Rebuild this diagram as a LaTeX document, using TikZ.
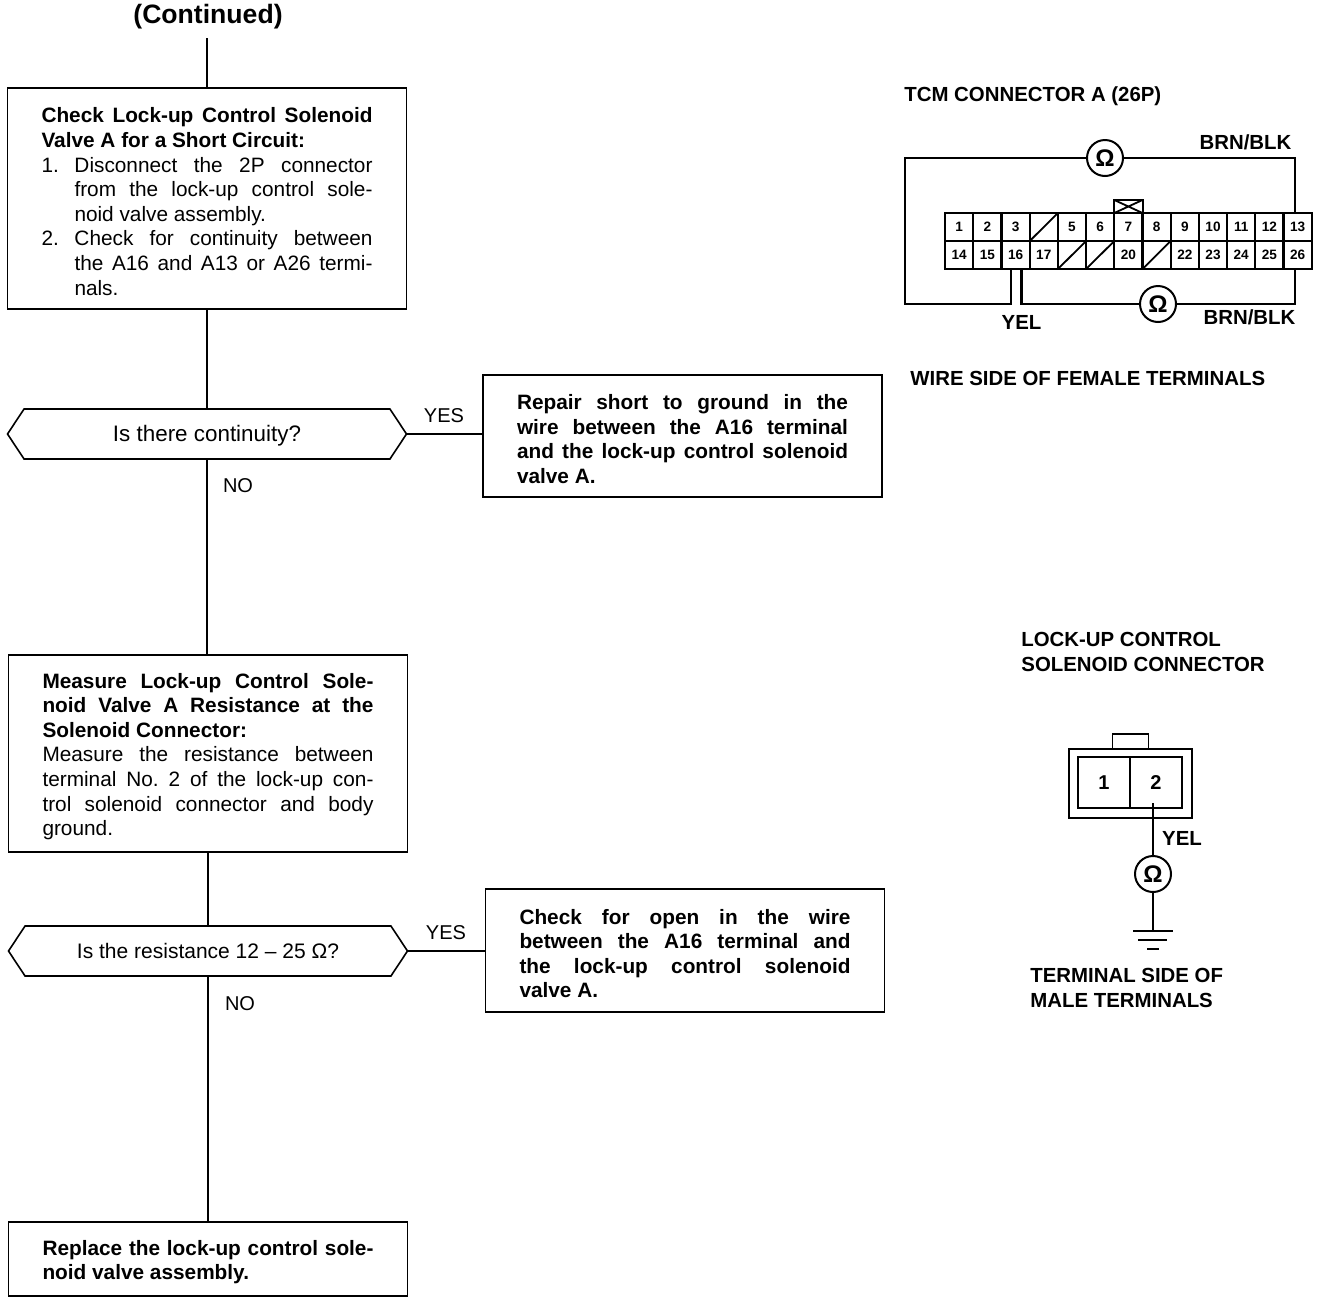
\documentclass[tikz,border=0pt]{standalone}
\usepackage{fontspec}
\setmainfont{Liberation Sans}
\usetikzlibrary{arrows.meta, positioning, shapes.symbols, calc}
\frenchspacing
% one stretched line of a box
\newcommand{\fullline}[1]{\makebox[165.5pt][s]{#1}}
\newcommand{\itemline}[2]{\makebox[16.5pt][l]{#1}\makebox[149pt][s]{#2}}
\begin{document}
\begin{tikzpicture}[
    x=0.5pt, y=-0.5pt,
    stepbox/.style={draw, line width=0.9pt, minimum width=199.5pt, outer sep=0pt, inner sep=0pt, text width=165.5pt, align=flush left, font=\fontsize{10.4}{12.3}\selectfont, execute at begin node=\rule{0pt}{10.5pt}},
    question/.style={draw, line width=0.8pt, signal, signal to=west and east, signal pointer angle=113, minimum width=199.5pt, minimum height=25pt, outer sep=0pt, inner sep=0pt, text height=10pt, text depth=2.2pt},
    answer/.style={font=\fontsize{10}{12}\selectfont},
    flow/.style={line width=0.8pt},
    label/.style={font=\fontsize{10.2}{12.3}\selectfont\bfseries, align=left, inner sep=0pt},
    pincell/.style={draw, line width=1.1pt, minimum width=14.1pt, minimum height=14pt, inner sep=0pt, outer sep=0pt, font=\fontsize{6.8}{7}\selectfont\bfseries},
    meter/.style={draw, circle, line width=1pt, minimum size=18pt, inner sep=0pt, outer sep=0pt, font=\fontsize{12}{12}\selectfont\bfseries},
    wire/.style={line width=1.2pt}
]
\useasboundingbox (0,0) rectangle (1328,1302);

% Flow column
\node[font=\fontsize{13.3}{15}\selectfont\bfseries] (continued) at (208,17) {(Continued)};
\node[stepbox, minimum height=110.5pt] (shortcheck) at (207,198.5) {\bfseries
  \fullline{Check Lock-up Control Solenoid}\\
  Valve A for a Short Circuit:\\
  \mdseries\itemline{1.}{Disconnect the 2P connector}\\
  \itemline{}{from the lock-up control sole-}\\
  \hspace*{16.5pt}noid valve assembly.\\
  \itemline{2.}{Check for continuity between}\\
  \itemline{}{the A16 and A13 or A26 termi-}\\
  \hspace*{16.5pt}nals.};
\node[question, font=\fontsize{11.2}{12}\selectfont] (continuity) at (207,434) {Is there continuity?};
\node[stepbox, minimum height=98.5pt] (resistcheck) at (208,753.5) {\bfseries
  \fullline{Measure Lock-up Control Sole-}\\
  \fullline{noid Valve A Resistance at the}\\
  Solenoid Connector:\\
  \mdseries\fullline{Measure the resistance between}\\
  \fullline{terminal No. 2 of the lock-up con-}\\
  \fullline{trol solenoid connector and body}\\
  ground.};
\node[question, font=\fontsize{10.5}{12}\selectfont] (resistance) at (208,951) {Is the resistance 12 – 25 Ω?};
\node[stepbox, minimum height=37pt] (replace) at (208,1259) {\bfseries
  \fullline{Replace the lock-up control sole-}\\
  noid valve assembly.};

% Right hand boxes
\node[stepbox, minimum height=61pt] (repair) at (682.5,436) {\bfseries
  \fullline{Repair short to ground in the}\\
  \fullline{wire between the A16 terminal}\\
  \fullline{and the lock-up control solenoid}\\
  valve A.};
\node[stepbox, minimum height=61.5pt] (openwire) at (685,950.5) {\bfseries
  \fullline{Check for open in the wire}\\
  \fullline{between the A16 terminal and}\\
  \fullline{the lock-up control solenoid}\\
  valve A.};

% Flow lines
\coordinate (topend) at (207,38);
\draw[flow] (topend) -- (shortcheck.north);
\draw[flow] (shortcheck.south) -- (continuity.north);
\draw[flow] (continuity.south) -- (continuity.south |- resistcheck.north);
\draw[flow] (resistcheck.south) -- (resistance.north);
\draw[flow] (resistance.south) -- (replace.north);
\draw[flow] (continuity.east) -- (continuity.east -| repair.west);
\draw[flow] (resistance.east) -- (resistance.east -| openwire.west);
\node[answer] (yesa) at (444,416) {YES};
\node[answer] (noa) at (238,486) {NO};
\node[answer] (yesb) at (446,933) {YES};
\node[answer] (nob) at (240,1004) {NO};

% TCM connector
\node[label, anchor=west] (tcmtitle) at (904,96) {TCM CONNECTOR A (26P)};
\foreach \t [count=\c] in {1,2,3,{},5,6,7,8,9,10,11,12,13}
  \node[pincell] (top\c) at ({931+28.2*\c},227) {\t};
\foreach \t [count=\c] in {14,15,16,17,{},{},20,{},22,23,24,25,26}
  \node[pincell] (low\c) at ({931+28.2*\c},255) {\t};
\foreach \c in {top4,low5,low6,low8}
  \draw[line width=0.9pt] (\c.south west) -- (\c.north east);
\node[draw, line width=1pt, minimum width=14.1pt, minimum height=6.5pt, inner sep=0pt, outer sep=0pt, anchor=south] (lockkey) at (top7.north) {};
\draw[line width=0.9pt] (lockkey.south west) -- (lockkey.north east) (lockkey.north west) -- (lockkey.south east);

\node[meter] (ohma) at (1105,158) {Ω};
\node[meter] (ohmb) at (1158,304) {Ω};
\coordinate (cornera) at (905,304);
\coordinate (wirea) at ([xshift=-2.3pt]low3.south);
\coordinate (wireb) at ([xshift=3pt]low3.south);
\draw[wire] (ohma.west) -| (cornera) -| (wirea);
\draw[wire] (ohma.east) -| ([xshift=-1.2pt]top13.north);
\draw[wire] (wireb) |- (ohmb.west);
\draw[wire] (ohmb.east) -| ([xshift=-1.2pt]low13.south);
\node[label] (brna) at (1245.5,142) {BRN/BLK};
\node[label] (brnb) at (1249.5,317) {BRN/BLK};
\node[label] (yela) at (1021.5,322) {YEL};
\node[label, anchor=west] (wireside) at (910,378) {WIRE SIDE OF FEMALE TERMINALS};

% Solenoid connector
\node[label, anchor=north west] (soltitle) at (1021,632) {LOCK-UP CONTROL\\SOLENOID CONNECTOR};
\node[draw, line width=0.8pt, minimum width=61.5pt, minimum height=34.5pt, outer sep=0pt] (shell) at (1130.5,783.5) {};
\node[draw, line width=0.8pt, minimum width=18pt, minimum height=7.5pt, outer sep=0pt, anchor=south] (solkey) at (shell.north) {};
\node[draw, line width=0.9pt, minimum width=26pt, minimum height=25.5pt, outer sep=0pt, inner sep=0pt, font=\fontsize{10}{12}\selectfont\bfseries] (sola) at (1104,782.5) {1};
\node[draw, line width=0.9pt, minimum width=26pt, minimum height=25.5pt, outer sep=0pt, inner sep=0pt, font=\fontsize{10}{12}\selectfont\bfseries] (solb) at (1156,782.5) {2};
\node[meter] (ohmc) at (1153,874) {Ω};
\coordinate (wirec) at (1153,803);
\coordinate (ground) at (1153,931);
\draw[wire] (wirec) -- (ohmc.north);
\draw[wire] (ohmc.south) -- (ground);
\draw[wire] (ground) ++(-20,0) -- ++(40,0);
\draw[wire] (ground) ++(-15,9) -- ++(29,0);
\draw[wire] (ground) ++(-6,18) -- ++(12,0);
\node[label] (yelb) at (1182,838) {YEL};
\node[label, anchor=north west] (termside) at (1030,968) {TERMINAL SIDE OF\\MALE TERMINALS};
\end{tikzpicture}
\end{document}
